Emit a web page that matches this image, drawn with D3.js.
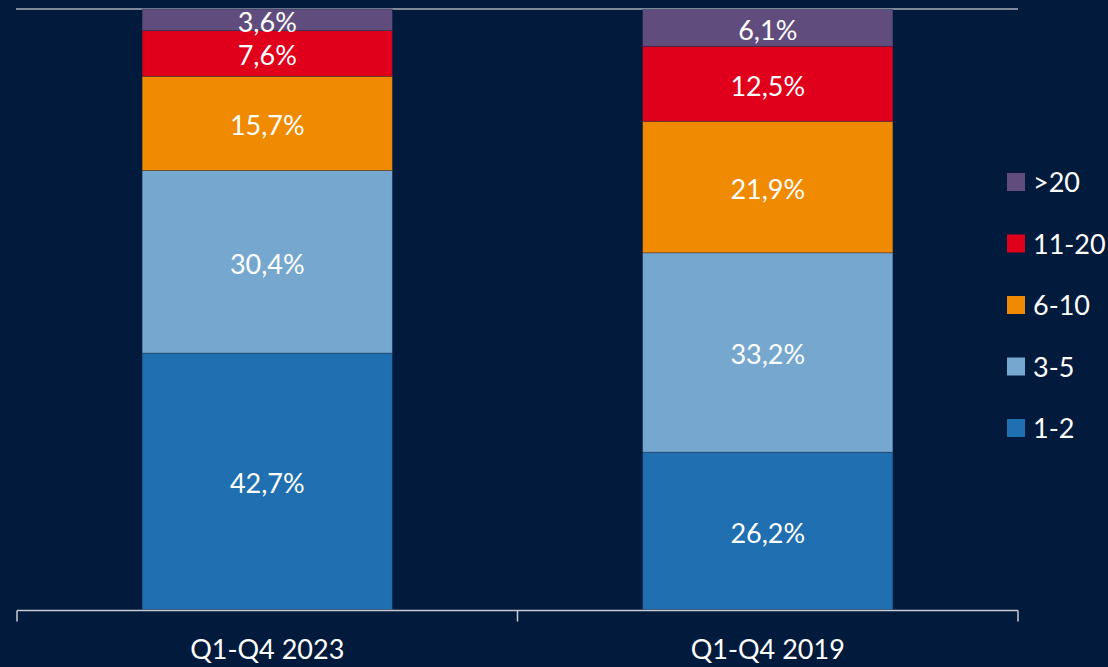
<!DOCTYPE html>
<html>
<head>
<meta charset="utf-8">
<script src="https://cdn.jsdelivr.net/npm/d3@7"></script>
<style>
body {
  margin: 0;
  background: #021b3d;
  overflow: hidden;
}
text {
  font-family: Lato, "Open Sans", sans-serif;
  fill: #ffffff;
}
</style>
</head>
<body>
<div id="plot"></div>
<script>
// periods along the x axis
var periods = ["Q1-Q4 2023", "Q1-Q4 2019"];
// stack order, bottom to top
var groups = ["1-2", "3-5", "6-10", "11-20", ">20"];
var colors = ["#1f6fb1", "#76a8cf", "#f08a00", "#e0001b", "#614d7d"];
// shares in percent, one array per group, same order as periods
var share12   = [42.7, 26.2];
var share35   = [30.4, 33.2];
var share610  = [15.7, 21.9];
var share1120 = [7.6, 12.5];
var share20   = [3.6, 6.1];
var seriesValues = [share12, share35, share610, share1120, share20];

var width = 1108, height = 667;
var margin = {top: 9, right: 90, bottom: 57, left: 17};

var svg = d3.select('#plot')
  .append('svg')
  .attr('width', width)
  .attr('height', height);

var x = d3.scaleBand()
  .domain(periods)
  .range([margin.left, 1018])
  .paddingInner(0.5)
  .paddingOuter(0.25);

var y = d3.scaleLinear()
  .domain([0, 100])
  .range([height - margin.bottom - 0.5, margin.top]);

var color = d3.scaleOrdinal().domain(groups).range(colors);

// build rows for d3.stack
var rows = periods.map(function(p, i){
  var r = {period: p};
  groups.forEach(function(g, j){ r[g] = seriesValues[j][i]; });
  return r;
});
var stacked = d3.stack().keys(groups)(rows);

// top gridline
svg.append('line')
  .attr('x1', 16)
  .attr('x2', 1018)
  .attr('y1', y(100))
  .attr('y2', y(100))
  .style('stroke', '#a9b0ba')
  .style('stroke-width', 1.5);

var layer = svg.selectAll('.layer')
  .data(stacked)
  .enter().append('g')
  .attr('class', 'layer')
  .style('fill', function(d){ return color(d.key); });

layer.selectAll('rect')
  .data(function(d){ return d; })
  .enter().append('rect')
  .attr('x', function(d){ return x(d.data.period); })
  .attr('width', x.bandwidth())
  .attr('y', function(d){ return y(d[1]); })
  .attr('height', function(d){ return y(d[0]) - y(d[1]); })
  .style('stroke', 'rgba(20,40,70,0.45)')
  .style('stroke-width', 0.8);

layer.selectAll('text')
  .data(function(d){ return d; })
  .enter().append('text')
  .attr('x', function(d){ return x(d.data.period) + x.bandwidth() / 2; })
  .attr('y', function(d){ return (y(d[0]) + y(d[1])) / 2; })
  .attr('dy', '0.44em')
  .attr('text-anchor', 'middle')
  .style('font-size', '27px')
  .text(function(d){
    return d3.format('.1f')(d[1] - d[0]).replace('.', ',') + '%';
  });

// x axis with the ticks between categories
var axisY = y(0) + 1;
svg.append('line')
  .attr('x1', x.range()[0])
  .attr('x2', x.range()[1])
  .attr('y1', axisY)
  .attr('y2', axisY)
  .style('stroke', '#c8ccd2')
  .style('stroke-width', 1.5);

var tickPos = [x.range()[0], (x.range()[0] + x.range()[1]) / 2, x.range()[1]];
svg.selectAll('.tick')
  .data(tickPos)
  .enter().append('line')
  .attr('class', 'tick')
  .attr('x1', function(d){ return d; })
  .attr('x2', function(d){ return d; })
  .attr('y1', axisY)
  .attr('y2', axisY + 11)
  .style('stroke', '#c8ccd2')
  .style('stroke-width', 1.5);

svg.selectAll('.xlabel')
  .data(periods)
  .enter().append('text')
  .attr('class', 'xlabel')
  .attr('x', function(d){ return x(d) + x.bandwidth() / 2; })
  .attr('y', 659)
  .attr('text-anchor', 'middle')
  .style('font-size', '27px')
  .text(function(d){ return d; });

// legend, top entry is the top of the stack
var legendKeys = groups.slice().reverse();
var legend = svg.selectAll('.legend')
  .data(legendKeys)
  .enter().append('g')
  .attr('class', 'legend')
  .attr('transform', function(d, i){ return 'translate(1007,' + (182 + i * 61.5) + ')'; });

legend.append('rect')
  .attr('x', 0)
  .attr('y', -9)
  .attr('width', 18)
  .attr('height', 18)
  .style('fill', function(d){ return color(d); });

legend.append('text')
  .attr('x', 26)
  .attr('y', 0)
  .attr('dy', '0.38em')
  .style('font-size', '27px')
  .text(function(d){ return d; });
</script>
</body>
</html>
